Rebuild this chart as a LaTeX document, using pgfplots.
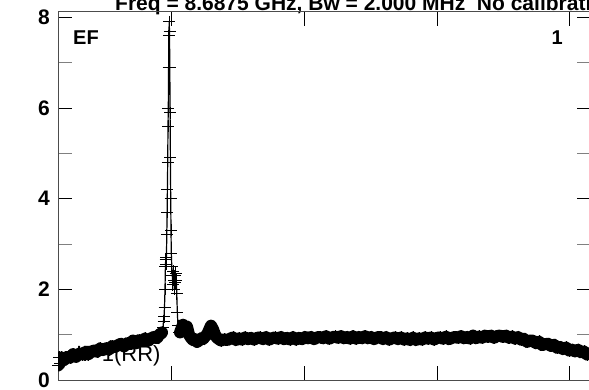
\documentclass[border=0pt]{standalone}
\usepackage{pgfplots}
\pgfplotsset{compat=1.18}
\usepackage{pgfplotstable}
\usepackage{fontspec}
\setmainfont{Liberation Sans}
\pgfplotstableread{
x y
0 0.32
1 0.50
2 0.36
3 0.50
6 0.44
9 0.51
12 0.49
15 0.57
18 0.51
21 0.58
24 0.56
27 0.62
30 0.56
33 0.62
36 0.65
39 0.62
42 0.70
45 0.66
48 0.70
51 0.67
54 0.75
57 0.73
60 0.77
63 0.80
66 0.74
69 0.81
72 0.79
75 0.87
78 0.81
81 0.88
84 0.86
87 0.92
90 0.86
93 0.92
96 0.95
99 0.92
101 1.00
103 1.02
104 1.05
105 1.15
105.5 1.30
106 1.40
106.5 1.60
107 2.00
107.4 2.50
107.7 2.65
108.0 2.55
108.4 2.70
108.8 3.20
109.1 3.70
109.4 4.20
109.7 4.80
110.0 5.60
110.3 6.00
110.6 6.90
110.9 7.60
111.2 7.90
111.5 7.70
111.8 6.90
112.1 5.90
112.4 4.90
112.7 4.00
113.0 3.30
113.3 2.80
113.8 2.50
114.3 2.30
114.8 2.10
115.3 2.40
115.8 2.20
116.3 2.00
116.8 2.30
117.3 2.15
117.8 2.35
118.3 2.20
118.8 1.90
119.3 1.50
120 1.20
121 1.05
122 1.05
125 1.22
127 1.12
129 1.18
131 1.00
133 0.93
135 0.88
137 0.90
139 0.84
141 0.87
143 0.92
145 0.90
147 0.96
149 1.00
151 1.10
153 1.20
155 1.12
157 1.00
159 0.93
161 0.90
163 0.87
166 0.90
169 0.88
172 0.91
175 0.94
178 0.88
181 0.92
184 0.89
187 0.94
190 0.90
193 0.93
196 0.89
199 0.93
202 0.94
205 0.90
208 0.95
211 0.89
214 0.92
217 0.94
220 0.91
223 0.95
226 0.90
229 0.93
232 0.89
235 0.95
238 0.89
241 0.93
244 0.90
247 0.95
250 0.92
253 0.95
256 0.90
259 0.94
262 0.95
265 0.92
268 0.97
271 0.91
274 0.94
277 0.96
280 0.93
283 0.97
286 0.92
289 0.95
292 0.91
295 0.97
298 0.91
301 0.95
304 0.92
307 0.97
310 0.92
313 0.95
316 0.90
319 0.94
322 0.95
325 0.90
328 0.95
331 0.89
334 0.92
337 0.94
340 0.90
343 0.94
346 0.89
349 0.92
352 0.88
355 0.94
358 0.88
361 0.92
364 0.89
367 0.94
370 0.91
373 0.94
376 0.89
379 0.93
382 0.94
385 0.91
388 0.96
391 0.90
394 0.93
397 0.95
400 0.93
403 0.97
406 0.92
409 0.95
412 0.91
415 0.98
418 0.92
421 0.96
424 0.93
427 0.98
430 0.95
433 0.98
436 0.93
439 0.97
442 0.98
445 0.95
448 0.98
451 0.93
454 0.96
457 0.91
460 0.95
463 0.89
466 0.91
469 0.84
472 0.87
475 0.87
478 0.81
481 0.85
484 0.77
487 0.79
490 0.80
493 0.75
496 0.78
499 0.71
502 0.73
505 0.68
508 0.72
511 0.65
514 0.67
517 0.63
520 0.67
523 0.61
526 0.63
529 0.56
532 0.59
}\datatable
\begin{document}
\begin{tikzpicture}[x=1pt,y=1pt]
\path[use as bounding box] (0,0) rectangle (589,389);
\node[anchor=base west,inner sep=0pt,font=\bfseries\fontsize{21}{21}\selectfont] at (115,378) {Freq = 8.6875 GHz, Bw = 2.000 MHz\ \ No calibration};
\node[anchor=base west,inner sep=0pt,font=\fontsize{22}{22}\selectfont] at (76,28) {IF 1(RR)};
\begin{axis}[
  at={(58pt,9pt)}, anchor=south west,
  scale only axis, width=533pt, height=368pt,
  xmin=0, xmax=533, ymin=0, ymax=8.12,
  xtick={113,246,379,511}, xticklabels={},
  ytick={0,2,4,6,8}, minor ytick={1,3,5,7},
  tick align=inside,
  major tick length=14pt, minor tick length=14pt,
  tick style={black, line width=0.8pt},
  minor tick style={gray, line width=0.8pt},
  axis line style={gray!60!black, line width=1pt},
  /pgf/number format/assume math mode=true,
  yticklabel style={font=\bfseries\fontsize{21}{21}\selectfont, inner sep=0pt, xshift=-8pt},
  clip=true,
]
\addplot[black, line width=12pt, line join=round, line cap=round, restrict x to domain=0:104, forget plot] table[x=x,y=y] {\datatable};
\addplot[black, line width=12pt, line join=round, line cap=round, restrict x to domain=122:533, forget plot] table[x=x,y=y] {\datatable};
\addplot[black, line width=1.2pt, mark=+, mark size=6pt, mark options={line width=1pt}] table[x=x,y=y] {\datatable};
\end{axis}
\node[anchor=base west,inner sep=0pt,font=\bfseries\fontsize{20}{20}\selectfont] at (73,344) {EF};
\node[anchor=base east,inner sep=0pt,font=\bfseries\fontsize{20}{20}\selectfont] at (563,344) {1};
\end{tikzpicture}
\end{document}
